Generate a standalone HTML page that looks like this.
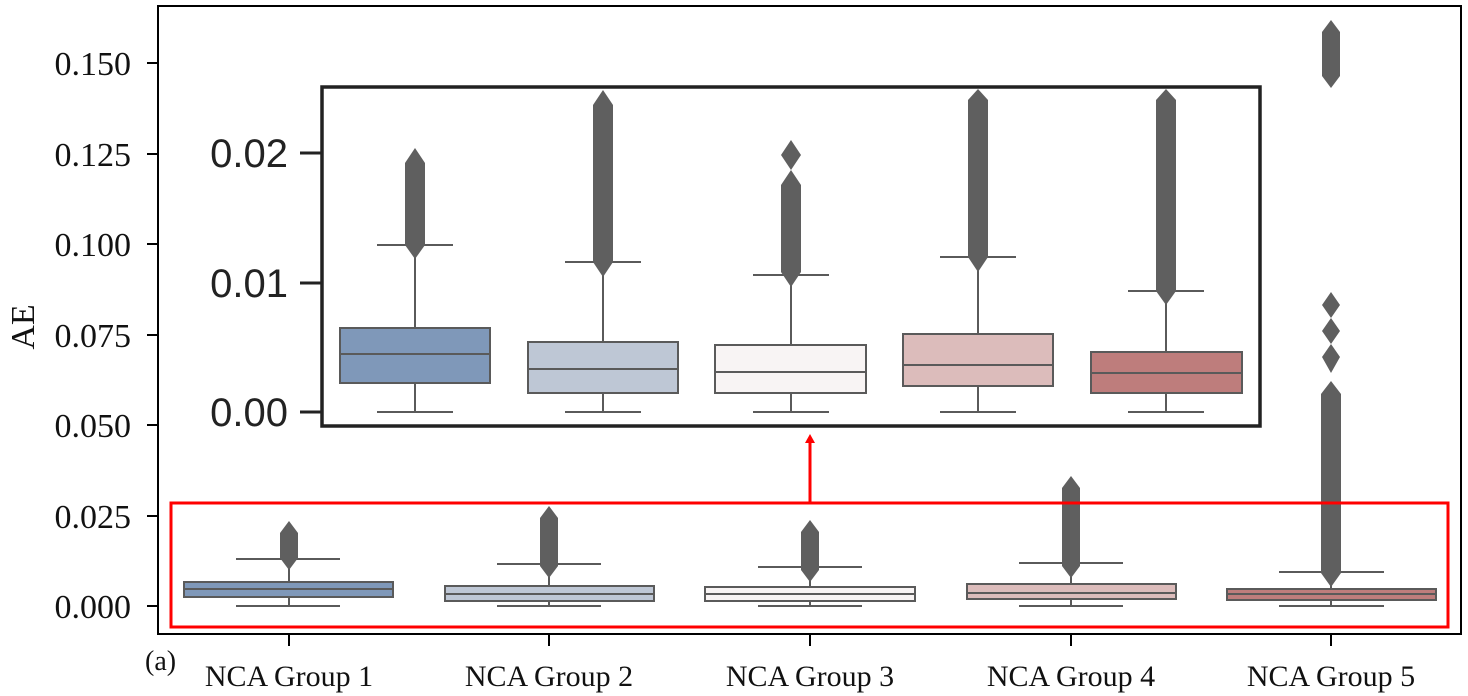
<!DOCTYPE html>
<html><head><meta charset="utf-8"><style>
html,body{margin:0;padding:0;background:#fff;}
svg{display:block;}
.s{font-family:"Liberation Serif",serif;fill:#111;}
.a{font-family:"Liberation Sans",sans-serif;fill:#222;}
</style></head><body>
<svg width="1468" height="696" viewBox="0 0 1468 696" xmlns="http://www.w3.org/2000/svg">
<rect width="1468" height="696" fill="#fff"/>
<rect x="158" y="6" width="1303" height="628" fill="none" stroke="#000" stroke-width="2"/>
<g stroke="#000" stroke-width="2">
<line x1="147" y1="63" x2="158" y2="63"/><line x1="147" y1="154" x2="158" y2="154"/>
<line x1="147" y1="244" x2="158" y2="244"/><line x1="147" y1="335" x2="158" y2="335"/>
<line x1="147" y1="425" x2="158" y2="425"/><line x1="147" y1="516" x2="158" y2="516"/>
<line x1="147" y1="606" x2="158" y2="606"/>
<line x1="289" y1="634" x2="289" y2="646"/><line x1="549" y1="634" x2="549" y2="646"/>
<line x1="810" y1="634" x2="810" y2="646"/><line x1="1071" y1="634" x2="1071" y2="646"/>
<line x1="1331" y1="634" x2="1331" y2="646"/>
</g>
<g class="s" font-size="34" text-anchor="end">
<text x="131" y="75">0.150</text><text x="131" y="166">0.125</text>
<text x="131" y="256">0.100</text><text x="131" y="347">0.075</text>
<text x="131" y="437">0.050</text><text x="131" y="528">0.025</text>
<text x="131" y="618">0.000</text>
</g>
<text class="s" font-size="34" transform="translate(34,327) rotate(-90)" text-anchor="middle">AE</text>
<g class="s" font-size="30" text-anchor="middle">
<text x="289" y="686">NCA Group 1</text><text x="549" y="686">NCA Group 2</text>
<text x="810" y="686">NCA Group 3</text><text x="1071" y="686">NCA Group 4</text>
<text x="1331" y="686">NCA Group 5</text>
</g>
<text class="s" font-size="28" x="145" y="670">(a)</text>

<g stroke="#5a5a5a" stroke-width="2">
<line x1="289" y1="559" x2="289" y2="606"/><line x1="236" y1="559" x2="340" y2="559"/><line x1="236" y1="606" x2="340" y2="606"/>
<rect x="184" y="582" width="209" height="15" fill="#7f98b9"/><line x1="184" y1="589" x2="393" y2="589"/>
<line x1="549" y1="564" x2="549" y2="606"/><line x1="497" y1="564" x2="601" y2="564"/><line x1="497" y1="606" x2="601" y2="606"/>
<rect x="445" y="586" width="209" height="15" fill="#bec7d5"/><line x1="445" y1="594" x2="654" y2="594"/>
<line x1="810" y1="567" x2="810" y2="606"/><line x1="758" y1="567" x2="862" y2="567"/><line x1="758" y1="606" x2="862" y2="606"/>
<rect x="705" y="587" width="210" height="14" fill="#f8f4f4"/><line x1="705" y1="594" x2="915" y2="594"/>
<line x1="1071" y1="563" x2="1071" y2="606"/><line x1="1019" y1="563" x2="1123" y2="563"/><line x1="1019" y1="606" x2="1123" y2="606"/>
<rect x="967" y="584" width="209" height="15" fill="#dcbcbb"/><line x1="967" y1="593" x2="1176" y2="593"/>
<line x1="1331" y1="572" x2="1331" y2="606"/><line x1="1279" y1="572" x2="1384" y2="572"/><line x1="1279" y1="606" x2="1384" y2="606"/>
<rect x="1227" y="589" width="209" height="11" fill="#be7d7c"/><line x1="1227" y1="594" x2="1436" y2="594"/>
</g>
<g fill="#5f5f5f">
<polygon points="289,521 298,533 298,558 289,570 280,558 280,533"/>
<polygon points="549,506 558,518 558,566 549,578 540,566 540,518"/>
<polygon points="810,520 819,532 819,570 810,582 801,570 801,532"/>
<polygon points="1071,476 1080,488 1080,566 1071,578 1062,566 1062,488"/>
<polygon points="1331,20 1340,32 1340,76 1331,88 1322,76 1322,32"/>
<polygon points="1331,292 1340,305 1331,318 1340,331 1331,344 1340,357 1331,373 1322,357 1331,344 1322,331 1331,318 1322,305"/>
<polygon points="1331,381 1341,394 1341,573 1331,587 1321,573 1321,394"/>
</g>
<rect x="171" y="503" width="1277" height="124" fill="none" stroke="#f00" stroke-width="3"/>
<line x1="810" y1="502" x2="810" y2="442" stroke="#f00" stroke-width="3"/>
<polygon points="810,434 815,443 805,443" fill="#f00"/>

<rect x="322" y="87" width="938" height="339" fill="#fff" stroke="#222" stroke-width="3.5"/>
<g stroke="#222" stroke-width="3">
<line x1="300" y1="153" x2="321" y2="153"/><line x1="300" y1="283" x2="321" y2="283"/><line x1="300" y1="412" x2="321" y2="412"/>
</g>
<g class="a" font-size="40" text-anchor="end">
<text x="288" y="167">0.02</text><text x="288" y="297">0.01</text><text x="288" y="426">0.00</text>
</g>
<g stroke="#5a5a5a" stroke-width="2">
<line x1="415" y1="245" x2="415" y2="412"/><line x1="377" y1="245" x2="453" y2="245"/><line x1="377" y1="412" x2="453" y2="412"/>
<rect x="340" y="328" width="150" height="55" fill="#7f98b9"/><line x1="340" y1="354" x2="490" y2="354"/>
<line x1="603" y1="262" x2="603" y2="412"/><line x1="565" y1="262" x2="641" y2="262"/><line x1="565" y1="412" x2="641" y2="412"/>
<rect x="528" y="342" width="150" height="51" fill="#bec7d5"/><line x1="528" y1="369" x2="678" y2="369"/>
<line x1="791" y1="275" x2="791" y2="412"/><line x1="753" y1="275" x2="829" y2="275"/><line x1="753" y1="412" x2="829" y2="412"/>
<rect x="715" y="345" width="151" height="48" fill="#f8f4f4"/><line x1="715" y1="372" x2="866" y2="372"/>
<line x1="978" y1="257" x2="978" y2="412"/><line x1="940" y1="257" x2="1016" y2="257"/><line x1="940" y1="412" x2="1016" y2="412"/>
<rect x="903" y="334" width="150" height="52" fill="#dcbcbb"/><line x1="903" y1="365" x2="1053" y2="365"/>
<line x1="1166" y1="291" x2="1166" y2="412"/><line x1="1128" y1="291" x2="1204" y2="291"/><line x1="1128" y1="412" x2="1204" y2="412"/>
<rect x="1091" y="352" width="151" height="41" fill="#be7d7c"/><line x1="1091" y1="373" x2="1242" y2="373"/>
</g>
<g fill="#5f5f5f">
<polygon points="415,148 425,163 425,245 415,259 405,245 405,163"/>
<polygon points="603,90 613,105 613,262 603,277 593,262 593,105"/>
<polygon points="791,140 801,155 791,170 801,185 801,272 791,287 781,272 781,185 791,170 781,155"/>
<polygon points="978,89 988,100 988,257 978,272 968,257 968,100"/>
<polygon points="1166,89 1176,100 1176,291 1166,305 1156,291 1156,100"/>
</g>
</svg>
</body></html>
